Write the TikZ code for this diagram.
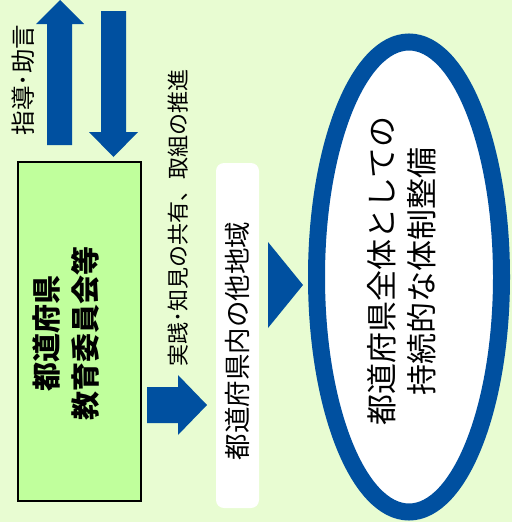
\documentclass[tikz,border=0pt]{standalone}
\usepackage{fontspec}
\setmainfont{Noto Sans CJK JP}
\usetikzlibrary{shapes.geometric}
\definecolor{bg}{RGB}{232,252,210}
\definecolor{boxgreen}{RGB}{192,255,156}
\definecolor{navy}{RGB}{0,80,160}
\tikzset{
  blockarrow/.style={fill=navy, draw=none},
  vtext/.style={rotate=90, inner sep=0pt, align=center},
}
\begin{document}
\begin{tikzpicture}[x=1pt,y=-1pt]
\fill[bg] (0,0) rectangle (512,522);
\useasboundingbox (0,0) rectangle (512,522);
% up / down arrows
\fill[blockarrow] (47,145) -- (47,24) -- (36,24) -- (60,0) -- (84,24) -- (72,24) -- (72,145) -- cycle;
\fill[blockarrow] (101,11) -- (126,11) -- (126,132) -- (138,132) -- (113.5,157) -- (89,132) -- (101,132) -- cycle;
\node[vtext, font=\fontsize{24.5}{26}\selectfont] (advice) at (23,80) {指導･助言};
% green box
\node[draw=black, line width=1.5pt, fill=boxgreen, minimum width=123pt, minimum height=339pt, inner sep=0pt] (board) at (79.5,331.5) {};
\node[vtext, font=\fontsize{29}{39}\selectfont\bfseries] (boardtext) at (66,333) {都道府県\\教育委員会等};
% small right arrow
\fill[blockarrow] (147,387) -- (178,387) -- (178,375) -- (207,405) -- (178,435) -- (178,423) -- (147,423) -- cycle;
\node[vtext, font=\fontsize{22}{24}\selectfont] (share) at (178,218) {実践･知見の共有、取組の推進};
% white rounded box
\node[fill=white, rounded corners=8pt, minimum width=43pt, minimum height=345pt, inner sep=0pt] (region) at (237.5,335.5) {};
\node[vtext, font=\fontsize{26.5}{28}\selectfont] (regiontext) at (237.5,341) {都道府県内の他地域};
% triangle
\fill[blockarrow] (268,242) -- (268,328) -- (303,285) -- cycle;
% ellipse
\node[ellipse, draw=navy, line width=17pt, fill=white, minimum width=185pt, minimum height=470pt, inner sep=0pt] (goal) at (409,277) {};
\node[vtext, font=\fontsize{31}{40}\selectfont] (goaltext) at (402,271) {都道府県全体としての\\持続的な体制整備};
\end{tikzpicture}
\end{document}
